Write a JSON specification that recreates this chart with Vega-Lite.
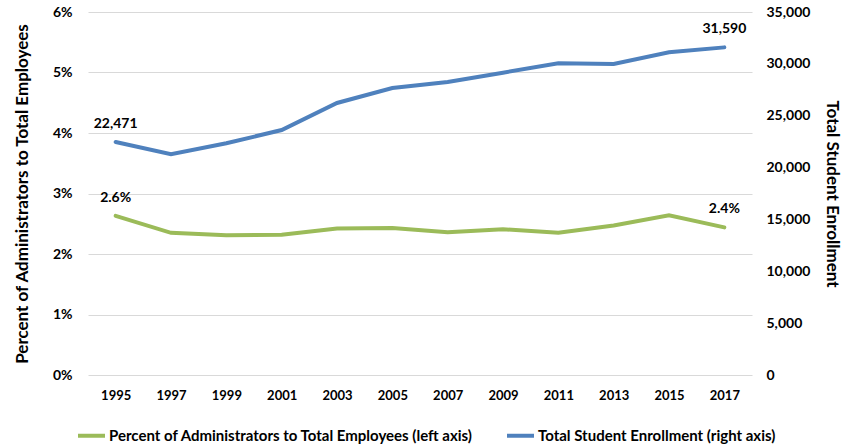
{
  "$schema": "https://vega.github.io/schema/vega-lite/v6.json",
  "width": 664,
  "height": 363,
  "autosize": {"type": "none"},
  "padding": {"left": 88, "top": 12, "right": 92, "bottom": 70},
  "background": "white",
  "config": {
    "view": {"stroke": null},
    "font": "Lato",
    "axis": {"labelFont": "Lato", "titleFont": "Lato", "labelColor": "#000000", "titleColor": "#000000", "labelFontWeight": "bold", "titleFontWeight": "bold", "labelFontSize": 14, "titleFontSize": 17, "domain": false, "ticks": false, "labelOverlap": false}
  },
  "data": {
    "values": [
      {"year": "1995", "pct": 0.0263, "enroll": 22471},
      {"year": "1997", "pct": 0.0235, "enroll": 21280},
      {"year": "1999", "pct": 0.0231, "enroll": 22340},
      {"year": "2001", "pct": 0.0232, "enroll": 23620},
      {"year": "2003", "pct": 0.0242, "enroll": 26230},
      {"year": "2005", "pct": 0.0243, "enroll": 27670},
      {"year": "2007", "pct": 0.0236, "enroll": 28250},
      {"year": "2009", "pct": 0.0241, "enroll": 29150},
      {"year": "2011", "pct": 0.0235, "enroll": 30050},
      {"year": "2013", "pct": 0.0247, "enroll": 29990},
      {"year": "2015", "pct": 0.0264, "enroll": 31110},
      {"year": "2017", "pct": 0.0244, "enroll": 31590}
    ]
  },
  "encoding": {
    "x": {"field": "year", "type": "ordinal", "axis": {"title": null, "labelAngle": 0, "labelPadding": 14, "grid": false, "labelFontSize": 13}}
  },
  "layer": [
    {
      "layer": [
        {
          "mark": {"type": "line", "strokeWidth": 4, "strokeCap": "round"},
          "encoding": {
            "y": {"field": "pct", "type": "quantitative", "scale": {"domain": [0, 0.06]}, "axis": {"title": "Percent of Administrators to Total Employees", "format": ".0%", "values": [0, 0.01, 0.02, 0.03, 0.04, 0.05, 0.06], "grid": true, "gridColor": "#D9D9D9", "gridWidth": 1, "labelPadding": 16, "titlePadding": 21}},
            "color": {"datum": "Percent of Administrators to Total Employees (left axis)", "type": "nominal", "scale": {"domain": ["Percent of Administrators to Total Employees (left axis)", "Total Student Enrollment (right axis)"], "range": ["#9BBB59", "#4F81BD"]}, "legend": {"title": null, "orient": "none", "direction": "horizontal", "legendX": -12, "legendY": 408, "symbolType": "stroke", "symbolSize": 729, "symbolStrokeWidth": 4, "labelFont": "Lato", "labelFontSize": 15, "labelFontWeight": "bold", "labelColor": "#000000", "labelOffset": 2, "labelLimit": 0, "columnPadding": 25}}
          }
        },
        {
          "transform": [{"filter": "datum.year == '1995' || datum.year == '2017'"}],
          "mark": {"type": "text", "fontSize": 14, "fontWeight": "bold", "font": "Lato", "baseline": "alphabetic", "dy": -14, "color": "#000000"},
          "encoding": {
            "y": {"field": "pct", "type": "quantitative"},
            "text": {"field": "pct", "type": "quantitative", "format": ".1%"}
          }
        }
      ]
    },
    {
      "layer": [
        {
          "mark": {"type": "line", "strokeWidth": 4, "strokeCap": "round"},
          "encoding": {
            "y": {"field": "enroll", "type": "quantitative", "scale": {"domain": [0, 35000]}, "axis": {"title": "Total Student Enrollment", "orient": "right", "format": ",.0f", "values": [0, 5000, 10000, 15000, 20000, 25000, 30000, 35000], "grid": false, "labelPadding": 14, "titlePadding": 13}},
            "color": {"datum": "Total Student Enrollment (right axis)", "type": "nominal"}
          }
        },
        {
          "transform": [{"filter": "datum.year == '1995' || datum.year == '2017'"}],
          "mark": {"type": "text", "fontSize": 14, "fontWeight": "bold", "font": "Lato", "baseline": "alphabetic", "dy": -14, "color": "#000000"},
          "encoding": {
            "y": {"field": "enroll", "type": "quantitative"},
            "text": {"field": "enroll", "type": "quantitative", "format": ",.0f"}
          }
        }
      ]
    }
  ],
  "resolve": {"scale": {"y": "independent"}, "axis": {"y": "independent"}}
}
